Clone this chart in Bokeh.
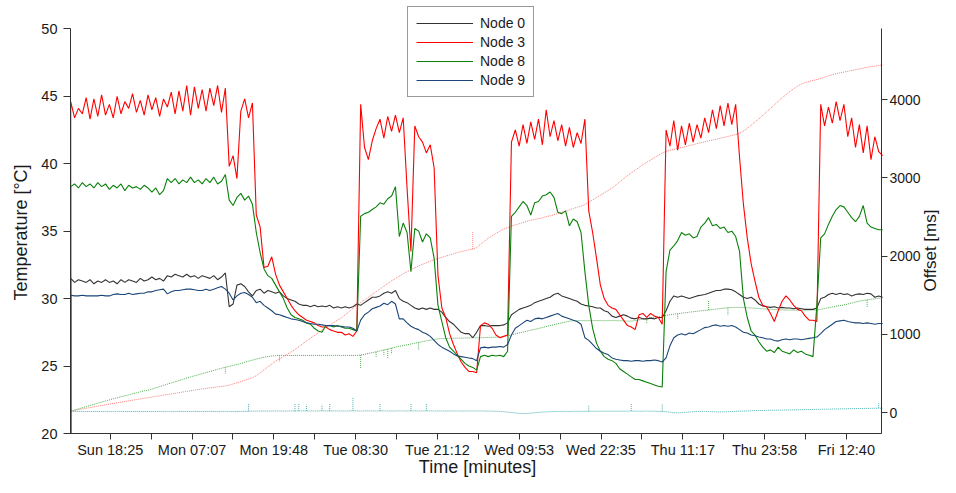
import math
import numpy as np
from bokeh.plotting import figure
from bokeh.models import Range1d, LinearAxis, FixedTicker, Label
from bokeh.embed import file_html
from bokeh.resources import INLINE

# ---------------- data ----------------
TICK_LABELS = ["Sun 18:25", "Mon 07:07", "Mon 19:48", "Tue 08:30", "Tue 21:12",
               "Wed 09:53", "Wed 22:35", "Thu 11:17", "Thu 23:58", "Fri 12:40"]
DAYS = {"Sun": 0, "Mon": 1, "Tue": 2, "Wed": 3, "Thu": 4, "Fri": 5}
TEMP_TICKS = [20, 25, 30, 35, 40, 45, 50]
MS_TICKS = [0, 1000, 2000, 3000, 4000]

T0 = 737      # first sample, minutes since Sun 00:00
STEP = 36     # sampling interval, minutes
X_START, X_END = 735, 8287     # shown time window (minutes)
T_MIN, T_MAX = 20, 50          # shown temperature window

# temperature series (first reading at start sits at the axis floor)
NODE0 = [20.0,
    31.5, 31.2, 31.4, 31.3, 31.2, 31.4, 31.1, 31.3, 31.2, 31.4,
    31.2, 31.3, 31.1, 31.4, 31.2, 31.4, 31.3, 31.2, 31.5, 31.3,
    31.4, 31.6, 31.4, 31.5, 31.3, 31.7, 31.6, 31.8, 31.7, 31.6,
    31.8, 31.6, 31.7, 31.5, 31.7, 31.6, 31.5, 31.7, 31.4, 31.6,
    31.9, 29.4, 29.6, 31.0, 31.1, 30.9, 30.5, 30.2, 30.6, 30.7,
    30.4, 30.6, 30.5, 30.4, 30.5, 30.2, 30.0, 29.9, 29.8, 29.6,
    29.5, 29.5, 29.4, 29.5, 29.4, 29.45, 29.4, 29.5, 29.3, 29.4,
    29.3, 29.4, 29.3, 29.4, 29.6, 29.5, 29.7, 29.9, 30.1, 30.1,
    30.2, 30.4, 30.5, 30.4, 30.6, 30.0, 29.8, 29.7, 29.5, 29.3,
    29.2, 29.3, 29.2, 29.3, 29.2, 29.2, 29.0, 28.6, 28.3, 28.1,
    27.8, 27.5, 27.4, 27.4, 27.1, 27.5, 28.0, 28.0, 27.95, 28.0,
    28.0, 28.0, 28.05, 28.2, 28.8, 29.0, 29.2, 29.3, 29.4, 29.5,
    29.7, 29.8, 29.9, 30.0, 30.1, 30.3, 30.4, 30.2, 30.1, 30.0,
    29.9, 29.8, 29.6, 29.5, 29.45, 29.4, 29.3, 29.3, 29.1, 29.0,
    28.7, 28.6, 28.7, 28.8, 28.7, 28.55, 28.5, 28.6, 28.5, 28.5,
    28.55, 28.5, 28.6, 28.6, 29.1, 29.8, 30.2, 30.1, 30.2, 30.1,
    30.0, 30.1, 30.2, 30.25, 30.3, 30.4, 30.5, 30.6, 30.6, 30.7,
    30.7, 30.65, 30.5, 30.3, 30.1, 30.0, 30.1, 29.9, 29.6, 29.45,
    29.4, 29.35, 29.4, 29.3, 29.35, 29.3, 29.3, 29.25, 29.3, 29.25,
    29.2, 29.2, 29.2, 29.3, 30.0, 30.1, 30.3, 30.4, 30.3, 30.4,
    30.3, 30.35, 30.2, 30.3, 30.35, 30.3, 30.4, 30.35, 30.1, 30.2, 30.1]

NODE3 = [20.0,
    44.6, 43.4, 44.1, 43.7, 44.9, 43.3, 44.8, 43.5, 45.1, 43.6,
    44.4, 43.4, 45.0, 43.7, 44.6, 44.1, 45.2, 43.8, 44.7, 43.6,
    45.1, 44.0, 44.9, 43.5, 44.8, 44.2, 45.3, 43.7, 45.4, 43.9,
    45.8, 43.6, 45.7, 44.1, 45.5, 43.9, 45.6, 44.3, 45.8, 43.8,
    45.6, 39.8, 40.6, 38.9, 43.9, 44.8, 43.4, 44.5, 36.2, 35.3,
    32.3, 32.4, 33.1, 31.8, 31.0, 30.5, 30.0, 29.5, 29.1, 28.8,
    28.6, 28.4, 28.3, 28.2, 28.0, 27.9, 27.9, 27.7, 27.6, 27.5,
    27.5, 27.3, 27.4, 27.2, 27.6, 44.4, 41.2, 40.3, 41.7, 42.6,
    43.3, 41.9, 43.5, 42.4, 43.6, 42.3, 43.4, 38.2, 33.5, 42.8,
    42.0, 41.6, 40.8, 41.4, 39.7, 31.7, 29.3, 28.6, 27.4, 26.6,
    25.9, 25.3, 24.9, 24.6, 24.6, 24.5, 28.0, 28.2, 28.1, 27.8,
    27.3, 27.1, 27.2, 27.3, 41.6, 42.5, 41.3, 42.9, 41.5, 43.1,
    41.8, 43.3, 41.4, 44.0, 42.0, 43.2, 41.7, 42.9, 41.3, 42.7,
    41.2, 42.3, 41.5, 43.3, 36.5, 34.9, 33.0, 31.0, 30.0, 29.5,
    29.3, 29.2, 28.8, 28.4, 28.0, 27.9, 27.7, 28.8, 28.9, 28.6,
    28.9, 28.7, 28.6, 28.1, 42.5, 41.3, 43.2, 41.0, 42.8, 41.4,
    43.0, 41.6, 42.9, 41.9, 43.4, 42.3, 44.0, 42.6, 44.3, 42.8,
    44.5, 42.9, 44.4, 40.5, 37.0, 34.5, 32.6, 31.3, 30.1, 29.5,
    29.4, 28.9, 28.3, 29.1, 29.8, 30.2, 29.9, 29.5, 29.2, 29.1,
    28.7, 28.4, 28.4, 28.3, 44.4, 42.8, 44.2, 43.0, 44.6, 43.2,
    44.4, 42.0, 43.4, 41.2, 42.9, 40.8, 42.8, 40.3, 42.0, 40.9, 40.6]

NODE8 = [20.0,
    38.3, 38.5, 38.2, 38.6, 38.3, 38.5, 38.2, 38.6, 38.3, 38.5,
    38.1, 38.4, 38.2, 38.5, 38.0, 38.4, 38.2, 38.3, 38.1, 38.4,
    38.2, 37.9, 38.2, 37.7, 38.0, 38.9, 38.6, 38.9, 38.5, 38.8,
    38.6, 39.0, 38.6, 38.8, 38.5, 38.9, 38.6, 39.0, 38.5, 38.7,
    39.2, 37.3, 36.9, 37.5, 37.8, 37.3, 37.6, 37.0, 34.9, 33.4,
    32.2, 31.7, 31.5, 31.0, 30.5, 30.0, 29.3, 28.8, 28.6, 28.5,
    28.4, 28.2, 28.1, 27.8, 27.6, 27.5, 28.0, 28.0, 27.9, 28.0,
    27.9, 27.8, 27.8, 27.7, 27.6, 36.1, 36.3, 36.4, 36.6, 36.8,
    37.1, 37.0, 37.4, 37.6, 38.3, 34.6, 35.6, 34.9, 32.0, 35.2,
    35.0, 34.2, 34.8, 34.5, 33.0, 29.5, 28.3, 27.1, 26.4, 26.1,
    25.8, 25.5, 25.2, 25.0, 24.9, 24.7, 25.7, 25.8, 25.7, 25.8,
    25.75, 25.8, 25.7, 26.1, 36.1, 36.4, 36.8, 37.2, 36.9, 36.2,
    37.1, 37.2, 37.6, 37.7, 37.9, 37.5, 36.4, 36.3, 36.5, 35.4,
    35.9, 35.7, 34.9, 32.0, 29.5, 27.8, 26.7, 26.1, 25.7, 25.5,
    25.4, 25.2, 24.8, 24.6, 24.4, 24.2, 24.0, 24.0, 23.9, 23.8,
    23.7, 23.6, 23.5, 23.45, 32.0, 33.6, 33.9, 34.3, 34.9, 34.7,
    34.8, 34.5, 34.6, 35.3, 35.6, 36.0, 35.4, 35.5, 35.2, 35.3,
    34.9, 35.0, 34.6, 33.5, 30.0, 28.6, 27.6, 27.3, 26.8, 26.4,
    26.1, 26.2, 26.0, 26.4, 26.1, 26.0, 25.9, 26.2, 26.0, 26.1,
    25.9, 25.8, 25.7, 29.5, 34.5, 34.8, 35.5, 36.1, 36.6, 36.9,
    36.8, 36.4, 36.0, 35.7, 36.1, 36.9, 35.6, 35.3, 35.2, 35.1, 35.1]

NODE9 = [20.0,
    30.25, 30.2, 30.2, 30.25, 30.2, 30.2, 30.2, 30.2, 30.25, 30.2,
    30.2, 30.3, 30.35, 30.3, 30.3, 30.4, 30.3, 30.35, 30.4, 30.4,
    30.5, 30.5, 30.6, 30.65, 30.7, 30.35, 30.5, 30.6, 30.6, 30.65,
    30.7, 30.7, 30.65, 30.6, 30.6, 30.7, 30.6, 30.7, 30.8, 30.9,
    30.7, 30.4, 29.9, 30.2, 30.4, 30.45, 30.3, 30.1, 29.7, 29.8,
    29.5, 29.3, 29.1, 28.85, 28.8, 28.7, 28.6, 28.5, 28.45, 28.4,
    28.3, 28.2, 28.15, 28.1, 28.1, 28.05, 28.0, 28.0, 28.0, 27.95,
    27.95, 27.9, 27.9, 27.8, 27.6, 28.4, 28.8, 29.0, 29.25, 29.35,
    29.45, 29.65, 29.55, 29.8, 29.6, 28.5, 28.5, 28.2, 27.95, 27.8,
    27.7, 27.5, 27.4, 27.2, 26.9, 26.6, 26.4, 26.25, 26.1, 25.9,
    25.75, 25.7, 25.65, 25.6, 25.55, 25.4, 26.35, 26.4, 26.35, 26.4,
    26.4, 26.45, 26.4, 26.6, 27.3, 27.8, 28.0, 28.2, 28.4, 28.3,
    28.5, 28.55, 28.5, 28.6, 28.7, 28.8, 28.9, 28.7, 28.6, 28.5,
    28.4, 28.3, 28.1, 27.1, 26.9, 26.6, 26.3, 26.1, 25.95, 25.85,
    25.6, 25.5, 25.45, 25.4, 25.4, 25.35, 25.4, 25.4, 25.35, 25.4,
    25.4, 25.45, 25.4, 25.3, 25.6, 26.5, 27.1, 27.3, 27.4, 27.3,
    27.45, 27.4, 27.55, 27.7, 27.85, 27.9, 28.0, 28.05, 27.95, 28.0,
    27.95, 28.0, 27.9, 27.7, 27.5, 27.45, 27.3, 27.25, 27.15, 27.1,
    27.0, 27.0, 26.9, 26.85, 26.95, 27.0, 26.95, 27.0, 27.0, 26.95,
    27.0, 27.05, 27.1, 27.15, 27.4, 27.7, 27.9, 28.1, 28.3, 28.35,
    28.4, 28.3, 28.25, 28.2, 28.2, 28.15, 28.2, 28.15, 28.1, 28.15, 28.15]

# clock offsets (ms), same sampling grid without the start reading
OFF3 = [
    17, 27, 36, 45, 54, 63, 72, 81, 90, 99,
    108, 116, 124, 133, 141, 149, 157, 166, 174, 182,
    190, 198, 206, 214, 222, 230, 238, 246, 254, 262,
    270, 278, 286, 294, 302, 309, 315, 321, 327, 333,
    340, 350, 365, 380, 395, 412, 428, 445, 470, 505,
    545, 585, 620, 655, 685, 715, 745, 775, 805, 840,
    880, 915, 950, 985, 1020, 1055, 1090, 1120, 1150, 1180,
    1210, 1250, 1290, 1330, 1370, 1405, 1440, 1475, 1510, 1545,
    1580, 1615, 1650, 1685, 1715, 1745, 1775, 1800, 1825, 1850,
    1875, 1895, 1915, 1935, 1955, 1970, 1985, 2000, 2015, 2030,
    2045, 2060, 2070, 2080, 2090, 2110, 2150, 2190, 2230, 2260,
    2290, 2320, 2345, 2365, 2385, 2400, 2415, 2430, 2445, 2460,
    2470, 2480, 2490, 2505, 2515, 2530, 2545, 2560, 2575, 2590,
    2610, 2625, 2640, 2660, 2690, 2720, 2750, 2780, 2810, 2840,
    2870, 2910, 2950, 2990, 3030, 3065, 3100, 3135, 3170, 3200,
    3230, 3260, 3290, 3320, 3340, 3355, 3365, 3380, 3390, 3400,
    3415, 3425, 3440, 3450, 3460, 3475, 3485, 3495, 3510, 3520,
    3530, 3545, 3555, 3570, 3600, 3635, 3675, 3715, 3755, 3800,
    3845, 3890, 3935, 3980, 4025, 4065, 4105, 4140, 4175, 4200,
    4220, 4235, 4248, 4260, 4275, 4290, 4305, 4320, 4335, 4345,
    4355, 4365, 4375, 4385, 4395, 4405, 4415, 4425, 4430, 4440, 4445]

OFF8 = [
    17, 31, 46, 60, 75, 90, 104, 119, 133, 148,
    162, 175, 188, 201, 214, 226, 239, 252, 264, 277,
    285, 300, 316, 331, 347, 362, 378, 393, 409, 424,
    440, 455, 469, 483, 496, 510, 524, 538, 552, 566,
    578, 590, 602, 614, 626, 641, 656, 670, 683, 696,
    707, 716, 722, 727, 730, 731, 730, 729, 730, 731,
    730, 729, 730, 731, 730, 730, 729, 730, 731, 730,
    729, 730, 731, 730, 731, 735, 745, 755, 766, 776,
    788, 800, 812, 824, 836, 848, 856, 866, 876, 886,
    896, 906, 916, 925, 933, 942, 945, 947, 949, 950,
    951, 952, 953, 954, 955, 955, 956, 958, 960, 961,
    963, 965, 972, 982, 993, 1005, 1017, 1029, 1041, 1053,
    1064, 1075, 1087, 1099, 1111, 1123, 1135, 1147, 1158, 1168,
    1174, 1175, 1176, 1175, 1174, 1175, 1176, 1175, 1174, 1175,
    1176, 1175, 1174, 1172, 1168, 1170, 1175, 1185, 1195, 1205,
    1213, 1220, 1227, 1235, 1242, 1250, 1257, 1264, 1270, 1277,
    1283, 1289, 1295, 1300, 1305, 1311, 1317, 1323, 1329, 1335,
    1340, 1343, 1345, 1344, 1342, 1340, 1337, 1334, 1330, 1327,
    1324, 1321, 1318, 1315, 1313, 1311, 1310, 1309, 1308, 1308,
    1308, 1309, 1310, 1312, 1320, 1330, 1340, 1350, 1360, 1368,
    1375, 1388, 1400, 1413, 1425, 1433, 1441, 1448, 1455, 1460, 1466]

OFF9 = [
    15, 13, 12, 13, 14, 12, 13, 13, 12, 14,
    13, 12, 13, 14, 13, 12, 13, 13, 14, 12,
    13, 12, 13, 14, 12, 13, 13, 12, 14, 13,
    13, 12, 14, 13, 12, 13, 14, 13, 12, 13,
    14, 13, 12, 13, 14, 15, 16, 17, 18, 18,
    19, 18, 19, 20, 19, 18, 19, 20, 19, 20,
    20, 19, 20, 19, 20, 21, 20, 19, 20, 21,
    20, 19, 20, 21, 20, 19, 20, 21, 20, 19,
    20, 21, 20, 19, 20, 21, 20, 19, 20, 20,
    19, 20, 21, 20, 19, 20, 20, 19, 20, 21,
    20, 19, 20, 20, 19, 20, 20, 19, 18, 17,
    16, 15, 10, 5, 0, -5, -12, -15, -12, -8,
    -3, 2, 5, 8, 10, 12, 13, 14, 15, 14,
    15, 16, 15, 14, 15, 16, 15, 16, 17, 16,
    17, 16, 17, 16, 17, 18, 17, 16, 17, 18,
    17, 16, 15, 14, 10, 4, -2, -5, -3, 2,
    6, 10, 13, 15, 14, 12, 10, 8, 7, 8,
    10, 12, 14, 16, 18, 20, 22, 24, 25, 26,
    27, 28, 29, 30, 31, 32, 33, 34, 35, 36,
    37, 38, 39, 40, 41, 42, 43, 44, 45, 46,
    47, 48, 49, 50, 51, 52, 52, 53, 54, 55, 55]

# short outliers in the offset logs: sample index -> measured offset (ms)
OFF3_SPIKE_K = [104]
OFF3_SPIKE_MS = [2320]
OFF8_SPIKE_K = [40, 54, 75, 79, 81, 82, 83, 90, 149, 157, 165, 170, 206]
OFF8_SPIKE_MS = [495, 650, 560, 700, 720, 700, 745, 800, 1140, 1200, 1430, 1250, 1350]
OFF9_SPIKE_K = [46, 58, 59, 61, 65, 67, 73, 80, 88, 92, 134, 145, 153, 209]
OFF9_SPIKE_MS = [120, 110, 110, 100, 100, 110, 195, 110, 110, 115, 95, 110, 110, 130]

# ---------------- derived ----------------
def to_minutes(lbl):
    d, hm = lbl.split()
    h, m = hm.split(":")
    return DAYS[d] * 1440 + int(h) * 60 + int(m)

tick_min = [to_minutes(l) for l in TICK_LABELS]
minor_min = [(a + b) / 2 for a, b in zip(tick_min[:-1], tick_min[1:])]

def temp_time(series):
    return T0 + STEP * np.maximum(np.arange(len(series)) - 1, 0)

def off_time(series):
    return T0 + STEP * np.arange(len(series))

# ---------------- layout (canvas pixels) ----------------
FONT = "Liberation Sans"
TXT = "#1a1a1a"
AX = "#333333"

W, H = 940, 477
AX_L, AX_R = 70, 881          # left / right axis lines
AX_TOP, AX_BOT = 28.3, 433    # 50 degC / 20 degC
ZERO_MS_Y = 412               # 0 ms
MS_PER_PX = 4000 / (412 - 99.3)

min_per_px = (X_END - X_START) / (AX_R - AX_L)
deg_per_px = (T_MAX - T_MIN) / (AX_BOT - AX_TOP)

x_lo = X_START - AX_L * min_per_px
x_hi = x_lo + W * min_per_px
y_lo = T_MIN - (H - AX_BOT) * deg_per_px
y_hi = T_MIN + AX_BOT * deg_per_px
ms_lo = -(H - ZERO_MS_Y) * MS_PER_PX
ms_hi = ZERO_MS_Y * MS_PER_PX
ms_axis_lo = -(AX_BOT - ZERO_MS_Y) * MS_PER_PX
ms_axis_hi = (ZERO_MS_Y - AX_TOP) * MS_PER_PX

p = figure(width=W, height=H,
           x_range=Range1d(x_lo, x_hi), y_range=Range1d(y_lo, y_hi),
           output_backend="svg", toolbar_location=None,
           min_border_left=0, min_border_right=0,
           min_border_top=0, min_border_bottom=0)
p.extra_y_ranges = {"ms": Range1d(ms_lo, ms_hi)}

p.xgrid.visible = False
p.ygrid.visible = False
p.outline_line_color = None
p.background_fill_color = "white"
p.border_fill_color = "white"

# offsets (right axis, dotted)
off_specs = [(OFF3, OFF3_SPIKE_K, OFF3_SPIKE_MS, "#ff7a7a"),
             (OFF8, OFF8_SPIKE_K, OFF8_SPIKE_MS, "#4fae4f"),
             (OFF9, OFF9_SPIKE_K, OFF9_SPIKE_MS, "#4aaeb0")]
for vals, sk, sv, col in off_specs:
    t = off_time(vals)
    p.line(t, vals, y_range_name="ms", line_color=col, line_width=1,
           line_dash="1 1")
    tk = [t[k] for k in sk]
    base = [vals[k] for k in sk]
    p.segment(x0=tk, y0=base, x1=tk, y1=sv, y_range_name="ms",
              line_color=col, line_width=1, line_dash="1 1")

# temperatures (left axis)
series = [("Node 0", NODE0, "#333333"), ("Node 3", NODE3, "#ff0000"),
          ("Node 8", NODE8, "#0a800a"), ("Node 9", NODE9, "#1b4677")]
for name, vals, col in series:
    p.line(temp_time(vals), vals, line_color=col, line_width=1.1,
           legend_label=name)

def style_axis(ax, size="14.5px"):
    ax.axis_line_color = AX
    ax.axis_line_width = 1
    ax.major_tick_line_color = AX
    ax.minor_tick_line_color = AX
    ax.major_tick_in = 0
    ax.minor_tick_in = 0
    ax.minor_tick_out = 0
    ax.major_label_text_font = FONT
    ax.major_label_text_font_size = size
    ax.major_label_text_color = TXT

# bottom axis, pinned at 20 degC
xa = p.xaxis[0]
style_axis(xa)
xa.fixed_location = T_MIN
xa.bounds = (X_START, X_END)
xa.ticker = FixedTicker(ticks=tick_min, minor_ticks=minor_min)
xa.major_label_overrides = {t: l for t, l in zip(tick_min, TICK_LABELS)}
xa.major_tick_out = 6
xa.minor_tick_out = 6
xa.major_label_standoff = 2

# left axis, pinned at start of window
ya = p.yaxis[0]
style_axis(ya)
ya.fixed_location = X_START
ya.bounds = (T_MIN, T_MAX)
ya.ticker = FixedTicker(ticks=TEMP_TICKS)
ya.major_tick_out = 7
ya.major_label_standoff = 6

# right axis, pinned at end of window
ra = LinearAxis(y_range_name="ms")
style_axis(ra, "14px")
ra.fixed_location = X_END
ra.bounds = (ms_axis_lo, ms_axis_hi)
ra.ticker = FixedTicker(ticks=MS_TICKS)
ra.major_tick_out = 6
ra.major_label_standoff = 2
p.add_layout(ra, "right")

# axis titles (screen units from bottom-left of the canvas-wide frame)
def title(text, x, y, angle=0.0, size="18px"):
    p.add_layout(Label(x=x, y=y, x_units="screen", y_units="screen",
                       text=text, angle=angle, text_align="center",
                       text_baseline="middle", text_font=FONT,
                       text_font_size=size, text_color=TXT))

title("Time [minutes]", 477, H - 466.5)
title("Temperature [°C]", 20, H - 232, angle=math.pi / 2)
title("Offset [ms]", 930, H - 250, angle=math.pi / 2, size="17px")

lg = p.legend[0]
lg.location = (407, H - 97)
lg.label_text_font = FONT
lg.label_text_font_size = "14px"
lg.label_text_color = TXT
lg.glyph_width = 57
lg.glyph_height = 16
lg.label_height = 16
lg.label_standoff = 7
lg.spacing = 3
lg.padding = 8
lg.margin = 0
lg.border_line_color = AX
lg.border_line_width = 1
lg.background_fill_color = "white"
lg.background_fill_alpha = 1.0

open("out.html", "w").write(file_html(p, INLINE))
